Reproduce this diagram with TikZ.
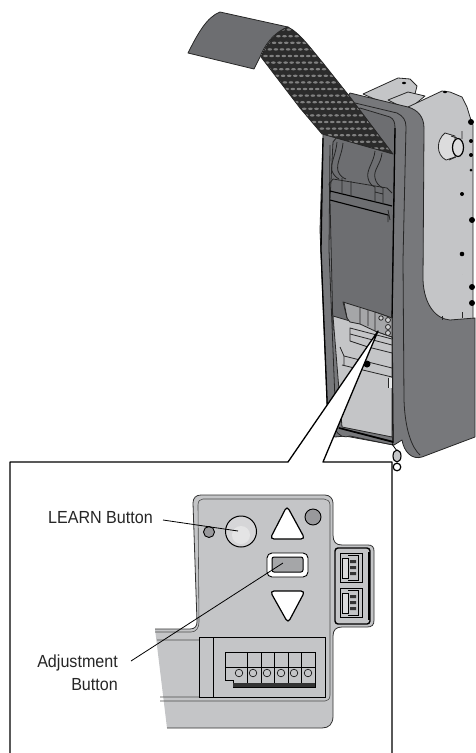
\documentclass[tikz,border=0pt]{standalone}
\usepackage{fontspec}
\setmainfont[FakeStretch=0.92]{Liberation Sans}
\definecolor{framegray}{HTML}{77787B}
\definecolor{darkin}{HTML}{6D6E71}
\definecolor{lightg}{HTML}{C4C5C7}
\definecolor{midg}{HTML}{A5A6A8}
\definecolor{meshk}{HTML}{2B2B2B}
\begin{document}
\begin{tikzpicture}[x=1pt,y=-1pt,
  ol/.style={draw=black!85,line width=0.8pt,line join=round},
  thick2/.style={draw=black,line width=1.3pt,line join=round},
  lbl/.style={font=\fontsize{17.5}{20}\selectfont,text=black!85,inner sep=0pt},
  leader/.style={draw=black,line width=0.8pt},
  termc/.style={draw=black,line width=0.6pt,fill=lightg}]
\useasboundingbox (0,0) rectangle (475,753);
% --- side body and bracket
\path[ol,fill=lightg] (363,94) -- (398,78) -- (410,79) -- (417,86) -- (415,94) -- (395,108) -- cycle;
\path[ol,fill=lightg] (388,100) -- (408,92) -- (425,96) -- (408,110) -- cycle;
\path[ol,fill=lightg] (408,107) -- (442,91) -- (450,92) -- (462,97) -- (467,107) -- (470,117) -- (473,125) -- (473,322) -- (420,322) -- (412,200) -- cycle;
\fill[black] (416,85) circle (0);
\fill[black] (404,83) ellipse (2 and 1.2) (445,92) ellipse (2 and 1.2);
\path[ol,fill=framegray] (350,93) -- (408,107) .. controls (418,110) and (424,117) .. (424,128)
  -- (423,280) .. controls (424,305) and (436,319) .. (450,320) -- (475,318) -- (475,437) -- (422,457)
  .. controls (412,460) and (404,452) .. (402,440) -- (394,445) -- (345,436) -- (335,437) .. controls (330,436) and (328,430) .. (328,425)
  -- (320,230) -- (323,135) -- cycle;
\fill[black] (471,122) circle (3) (472,220) circle (3) (472,287) circle (3) (472,303) circle (3);
\fill[black] (462,254) circle (2.3) (462,194) circle (2) (471,141) circle (2) (471,155) circle (2) (471,170) circle (1.5) (462,274) circle (0);
\draw[ol] (442,316) -- (442,320) (462,312) -- (462,318);
% side connector
\draw[ol,fill=lightg!60!white] (445,133) .. controls (436,140) and (436,155) .. (446,160) -- (455,157) -- (455,136) -- cycle;
\draw[line width=1.2pt,fill=lightg!60!white] (458,147.5) ellipse (5.5 and 9);
\draw[ol] (451,136) -- (457,138) (449,160) -- (456,157) (462,131) -- (462,139);
% frame lines
\draw[ol] (355,103) -- (397,113) .. controls (403,116) and (406,120) .. (406,127) -- (403,260) -- (404,400) .. controls (405,430) and (412,448) .. (420,455);
% --- interior
\path[ol,fill=darkin] (333,142) -- (360,108) -- (390,117) .. controls (394,119) and (395,123) .. (395,128) -- (392,330) -- (333,330) -- (330,200) -- cycle;
\draw[line width=1.3pt] (395,128) -- (392,320) -- (393,443);
\draw[line width=1.3pt] (323,138) -- (321,250) -- (328,425);
\draw[ol] (330,145) -- (329,250) -- (336,425);
\draw[ol] (333,179) -- (329,184) -- (330,190);
% hinge plate
\draw[ol] (333,179) -- (387,188) -- (392,193);
\draw[line width=1.1pt] (330,191) -- (384,204) -- (392,206);
\draw[line width=1.1pt] (330,200) -- (388,215);
\draw[ol] (388,210) -- (390,220) (388,215) -- (388,222);
\draw[ol] (342,178) -- (342,194) (351,181) -- (351,196) (375,187) -- (375,202) (383,188) -- (383,204) (375,192) -- (383,194);
% hinges
\draw[ol] (337,142) .. controls (336,155) and (330,163) .. (332,171) .. controls (334,176) and (337,178) .. (339,179);
\draw[ol] (343,143) .. controls (342,155) and (336,163) .. (338,171) .. controls (340,176) and (343,178) .. (346,179);
\draw[ol] (375,151) .. controls (374,162) and (366,170) .. (368,178) .. controls (369,183) and (372,186) .. (375,187);
\draw[ol] (382,153) .. controls (381,164) and (373,170) .. (375,178) .. controls (376,183) and (379,186) .. (383,188);
% --- lower light interior
\path[ol,fill=lightg] (333,316) -- (350,321) -- (392,330) -- (392,437) -- (342,427) -- cycle;
\path[ol,fill=midg] (343,302) -- (375,312) -- (392,318) -- (392,337) -- (375,331) -- (360,324) -- (350,322) -- (347,318) -- cycle;
\draw[ol] (347,318) -- (344,302) (360,308) -- (360,324) (368,310) -- (368,326);
\path[ol,fill=midg] (375,312) -- (392,318) -- (392,337) -- (375,331) -- cycle;
\path[ol,fill=lightg] (350,328) -- (392,339) -- (392,353) -- (368,347) -- (350,341) -- cycle;
\draw[ol] (350,334) -- (392,345);
\draw[ol] (340,347) -- (344,356) -- (392,368);
\draw[ol] (342,365) -- (392,377) (344,356) -- (344,365);
\fill[lightg!40!white] (388,378) rectangle (392,388);
\draw[ol] (388,378) -- (388,388);
\fill[black] (367,364) circle (3.5);
\draw[ol,fill=lightg!80!white] (381,318) circle (2.2) (388,320) circle (2.5) (388,327) circle (2.5) (388,333) circle (2.5);
% bottom rail
\path[ol,fill=framegray] (335,428) .. controls (338,437) and (345,438) .. (350,436) -- (393,445) -- (392,441) -- (340,428) -- cycle;
\draw[line width=1.6pt] (339,428) -- (393,442);
% ring
\draw[line width=0.8pt] (392,444) -- (397,451);
\draw[line width=1.1pt,fill=lightg] (397,456) ellipse (4 and 6);
% --- flap
\path[ol,fill=darkin] (188,53) .. controls (198,33) and (207,17) .. (220,12) -- (288,27) .. controls (272,33) and (264,47) .. (260,57) -- (254,69) -- cycle;
\begin{scope}
\path[clip] (261,57) .. controls (266,44) and (276,32) .. (288,27) .. controls (300,33) and (312,50) .. (323,63) -- (350,97) -- (393,154) -- (322,134) -- (300,108) -- cycle;
\fill[meshk] (240,20) rectangle (400,160);
\foreach \i in {0,...,30} \foreach \j in {0,...,14} {
  \pgfmathsetmacro{\px}{235+\i*7.9-\j*1.8}
  \pgfmathsetmacro{\py}{56+\i*6.6-\j*6.6}
  \fill[black!50] (\px,\py) ellipse (2.3 and 1.2);
}
\end{scope}
\draw[ol] (261,57) .. controls (266,44) and (276,32) .. (288,27) .. controls (300,33) and (312,50) .. (323,63) -- (350,97) -- (393,154) -- (322,134) -- (300,108) -- cycle;
% --- wedge and inset box
\coordinate (apex) at (378,331);
\coordinate (boxl) at (288,462);
\coordinate (boxr) at (323,462);
\fill[white] (10,753) -- (10,462) -- (boxl) -- (apex) -- (boxr) -- (392,462) -- (392,753) -- cycle;
\draw[thick2] (10,753) -- (10,462) -- (boxl) -- (apex) -- (boxr) -- (392,462) -- (392,753);
\draw[line width=1.2pt,fill=white] (397,467) circle (3.8);
% --- panel
\fill[lightg] (155,629) -- (190,629) .. controls (195,629) and (197,626) .. (197,622)
  -- (193,503) .. controls (193,498) and (196,495) .. (201,495) -- (325,495) .. controls (330,495) and (333,499) .. (333,503)
  -- (333,535) .. controls (333,542) and (336,545) .. (342,545) -- (368,545) .. controls (372,545) and (374,547) .. (374,551)
  -- (374,620) .. controls (374,625) and (372,627) .. (367,627) -- (342,627) .. controls (336,627) and (333,630) .. (333,636)
  -- (333,716) .. controls (333,724) and (329,728) .. (322,728) -- (167,728) -- cycle;
\draw[draw=black!80,line width=0.8pt] (155,629) -- (190,629) .. controls (195,629) and (197,626) .. (197,622)
  -- (193,503) .. controls (193,498) and (196,495) .. (201,495) -- (325,495) .. controls (330,495) and (333,499) .. (333,503)
  -- (333,535) .. controls (333,542) and (336,545) .. (342,545) -- (368,545) .. controls (372,545) and (374,547) .. (374,551)
  -- (374,620) .. controls (374,625) and (372,627) .. (367,627) -- (342,627) .. controls (336,627) and (333,630) .. (333,636)
  -- (333,716) .. controls (333,724) and (329,728) .. (322,728) -- (167,728);
\draw[draw=black!70,line width=0.6pt] (155,632) -- (191,632) .. controls (196,632) and (199,628) .. (199,622) -- (198,505) .. controls (198,501) and (200,499) .. (203,499) -- (324,499) .. controls (327,499) and (330,501) .. (330,505) -- (330,695);
\draw[draw=black!70,line width=0.6pt] (157,640) -- (199,640) (160,697) -- (199,697) (160,701) -- (325,701) .. controls (328,701) and (330,699) .. (330,695);
% terminal housing
\draw[line width=1pt] (199,637) rectangle (325,697);
\draw[line width=0.7pt] (213,637) -- (213,697);
% terminal block
\path[draw=black,line width=0.7pt,fill=lightg] (225,652) -- (315,652) -- (315,687) -- (233,687) -- (233,680) -- (225,680) -- cycle;
\draw[line width=0.6pt] (225,667) -- (315,667);
\foreach \dx in {247,261,274,288,301} \draw[line width=0.8pt] (\dx,652) -- (\dx,687);
\foreach \cx in {239,253,267,281,294,308} {\draw[termc] (\cx,673) circle (3.8);}
\fill[black!80] (233,683) rectangle (315,687);
% leds and buttons
\draw[line width=1pt,fill=lightg!70!white] (241,531.5) circle (15.5);
\fill[white,opacity=.35] (241,535) circle (9);
\draw[line width=0.9pt,fill=darkin!70!white] (209,532) circle (5.5);
\draw[line width=0.9pt,fill=darkin!70!white] (313,517) circle (8);
\draw[line width=1.2pt,fill=white,rounded corners=4pt] (287,506) -- (270,539) -- (305,539) -- cycle;
\draw[line width=1.2pt,fill=white,rounded corners=4pt] (270,591) -- (305,591) -- (288,623) -- cycle;
\draw[line width=0.9pt,fill=white,rounded corners=5pt] (267,553) rectangle (308,577);
\draw[line width=1pt,fill=midg,rounded corners=2pt] (272,557) rectangle (303,572);
% connector
\draw[line width=1.4pt,fill=lightg,rounded corners=3pt] (335,548) rectangle (370,624);
\draw[line width=1.5pt] (369,552) -- (369,620);
\foreach \sy in {553,588} {
  \draw[line width=.8pt,fill=lightg] (340,\sy) rectangle (362,\sy+29);
  \draw[line width=.7pt,fill=lightg!60!white] (342,\sy+5) rectangle (348,\sy+25);
  \draw[line width=.7pt] (348,\sy+2) -- (358,\sy+2) -- (358,\sy+27) -- (348,\sy+27);
  \fill[black!80] (350,\sy+7) rectangle (356,\sy+10) (350,\sy+13) rectangle (356,\sy+16) (350,\sy+19) rectangle (356,\sy+22);
}
% labels and leaders
\node[lbl,anchor=east] (learn) at (153,518) {LEARN Button};
\node[lbl,anchor=east] (adj1) at (118,663) {Adjustment};
\node[lbl,anchor=east] (adj2) at (118,685) {Button};
\coordinate (learnstart) at (163,520);
\coordinate (learnend) at (238,531);
\coordinate (adjstart) at (131,661);
\coordinate (adjend) at (283,563);
\draw[leader] (learnstart) -- (learnend);
\draw[leader] (adjstart) -- (adjend);
\end{tikzpicture}
\end{document}
